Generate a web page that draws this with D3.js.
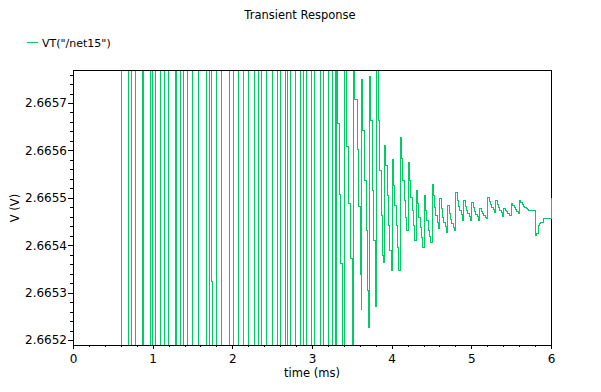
<!DOCTYPE html>
<html><head><meta charset="utf-8">
<script src="https://cdn.jsdelivr.net/npm/d3@7"></script>
<style>
body{margin:0;background:#fff;}
svg{display:block;font-family:"DejaVu Sans",sans-serif;}
</style></head><body>
<svg id="c" width="601" height="392"></svg>
<script>
// ---- data (time in ms, voltage in V) ----
const seriesName = 'VT("/net15")';
const HIGH = 2.6660, LOW = 2.6650; // off-scale excursions
// full-swing region: each entry is [time, value held afterwards]
const swingPts = [
  [0, LOW],
  [0.597, HIGH], [0.689, LOW], [0.731, HIGH], [0.782, LOW], [0.870, HIGH], [0.882, LOW],
  [0.970, HIGH], [0.995, LOW], [1.024, HIGH], [1.096, LOW], [1.141, HIGH], [1.191, LOW],
  [1.284, HIGH], [1.297, LOW], [1.347, HIGH], [1.380, LOW], [1.430, HIGH], [1.493, LOW],
  [1.568, HIGH], [1.674, LOW], [1.703, HIGH], [1.730, 2.665325], [1.745, LOW],
  [1.799, HIGH], [1.862, LOW], [1.954, HIGH], [2.008, LOW], [2.071, HIGH], [2.134, LOW],
  [2.197, HIGH], [2.272, LOW], [2.322, HIGH], [2.365, LOW], [2.428, HIGH], [2.498, LOW],
  [2.561, HIGH], [2.604, LOW], [2.667, HIGH], [2.692, LOW], [2.729, HIGH], [2.792, LOW],
  [2.846, HIGH], [2.888, LOW], [2.930, HIGH], [2.993, LOW], [3.031, HIGH], [3.106, LOW],
  [3.139, HIGH], [3.202, LOW], [3.252, HIGH], [3.290, LOW]
];
// settling region
const settlePts = [
  [3.2986, HIGH], [3.3199, 2.665658], [3.3363, 2.665508], [3.3577, 2.665362], [3.3740, LOW],
  [3.4029, HIGH], [3.4330, 2.665609], [3.4531, 2.665489], [3.4745, 2.665373], [3.4959, LOW],
  [3.5160, HIGH], [3.5285, 2.665709], [3.5587, 2.665603], [3.5788, 2.665483], [3.6002, 2.665339], [3.6090, 2.665265],
  [3.6165, 2.665751], [3.6291, 2.665643], [3.6504, 2.665538], [3.6718, 2.665432], [3.6882, 2.665306], [3.7007, 2.665227],
  [3.7095, 2.665757], [3.7258, 2.665664], [3.7472, 2.665517], [3.7635, 2.665411], [3.7849, 2.665272],
  [3.8050, HIGH], [3.8226, 2.665664], [3.8389, 2.665559], [3.8603, 2.665464], [3.8766, 2.665379], [3.8930, 2.665365],
  [3.9018, 2.665612], [3.9181, 2.665569], [3.9357, 2.665506], [3.9520, 2.665443], [3.9684, 2.665390], [3.9860, 2.665348]
];
// ringing region: sampled every 1/60 ms, one row of levels per 0.1 ms cycle
const sampleStep = 1 / 60;
const ringStart = [4.0, 4.1, 4.2, 4.3, 4.4, 4.5, 4.6, 4.7, 4.8, 4.9, 5.0, 5.1, 5.2, 5.3, 5.4, 5.5, 5.6, 5.7, 5.8, 5.9, 6.0];
const ringLevels = [
  [2.665582, 2.665527, 2.665485, 2.665443, 2.665396, 2.665348],
  [2.665628, 2.665584, 2.665538, 2.665495, 2.665460, 2.665432],
  [2.665576, 2.665538, 2.665502, 2.665474, 2.665443, 2.665411],
  [2.665517, 2.665489, 2.665460, 2.665438, 2.665417, 2.665396],
  [2.665506, 2.665474, 2.665453, 2.665432, 2.665419, 2.665407],
  [2.665529, 2.665506, 2.665481, 2.665464, 2.665449, 2.665436],
  [2.665500, 2.665479, 2.665460, 2.665449, 2.665441, 2.665428],
  [2.665485, 2.665468, 2.665455, 2.665447, 2.665438, 2.665432],
  [2.665512, 2.665495, 2.665483, 2.665474, 2.665466, 2.665453],
  [2.665495, 2.665483, 2.665474, 2.665468, 2.665462, 2.665453],
  [2.665491, 2.665481, 2.665472, 2.665466, 2.665462, 2.665453],
  [2.665479, 2.665472, 2.665468, 2.665464, 2.665460, 2.665457],
  [2.665502, 2.665493, 2.665487, 2.665481, 2.665476, 2.665470],
  [2.665495, 2.665487, 2.665481, 2.665474, 2.665470, 2.665462],
  [2.665479, 2.665474, 2.665472, 2.665468, 2.665464, 2.665464],
  [2.665489, 2.665485, 2.665481, 2.665476, 2.665472, 2.665468],
  [2.665495, 2.665491, 2.665487, 2.665483, 2.665481, 2.665479],
  [2.665476, 2.665474, 2.665474, 2.665474, 2.665474, 2.665474],
  [2.665422, 2.665426, 2.665443, 2.665447, 2.665449, 2.665449],
  [2.665457, 2.665457, 2.665457, 2.665457, 2.665457, 2.665457],
  [2.665500]
];
const xTicks = [0, 1, 2, 3, 4, 5, 6];
const yTicks = [2.6652, 2.6653, 2.6654, 2.6655, 2.6656, 2.6657];
const title = "Transient Response";
const xTitle = "time (ms)";
const yTitle = "V (V)";

// ---- build series ----
const ringPts = [];
ringStart.forEach((t0, i) => ringLevels[i].forEach((v, k) => ringPts.push([t0 + k * sampleStep, v])));
const series = swingPts.concat(settlePts, ringPts);

// ---- chart ----
const svg = d3.select('#c');
const x = d3.scaleLinear().domain([0, 6]).range([73, 551]);
const y = d3.scaleLinear().domain([2.66518945, 2.6657696]).range([345, 70]);
const color = '#00cc66';

svg.append('text').attr('x', 300).attr('y', 19).attr('text-anchor', 'middle')
  .attr('font-size', 11.5).text(title);

// legend
svg.append('line').attr('x1', 27).attr('x2', 38).attr('y1', 42.5).attr('y2', 42.5)
  .attr('stroke', color).attr('stroke-width', 1).attr('shape-rendering', 'crispEdges');
svg.append('text').attr('x', 42).attr('y', 47).attr('font-size', 11).text(seriesName);

// minor ticks
const yMinor = d3.range(0, 29).filter(i => i % 5 !== 0).map(i => 2.6652 + i * 0.00002);
const xMinor = d3.range(0, 31).filter(i => i % 5 !== 0).map(i => i * 0.2);

const gy = svg.append('g').attr('transform', 'translate(73,0)');
gy.call(d3.axisLeft(y).tickValues(yMinor).tickSize(3).tickSizeOuter(0).tickFormat(''));
gy.call(g => g.select('.domain').remove());
const gy2 = svg.append('g').attr('transform', 'translate(73,0)');
gy2.call(d3.axisLeft(y).tickValues(yTicks).tickSize(5).tickSizeOuter(0).tickPadding(1).tickFormat(d3.format('.4f')));
gy2.call(g => g.select('.domain').remove());

const gx = svg.append('g').attr('transform', 'translate(0,345)');
gx.call(d3.axisBottom(x).tickValues(xMinor).tickSize(2).tickSizeOuter(0).tickFormat(''));
gx.call(g => g.select('.domain').remove());
const gx2 = svg.append('g').attr('transform', 'translate(0,345)');
gx2.call(d3.axisBottom(x).tickValues(xTicks).tickSize(4).tickSizeOuter(0).tickPadding(5).tickFormat(d3.format('d')));
gx2.call(g => g.select('.domain').remove());

svg.selectAll('.tick text').attr('font-size', 12).attr('fill', '#000').attr('font-family', '"DejaVu Sans",sans-serif');
svg.selectAll('.tick line').attr('shape-rendering', 'crispEdges');

// axis titles
svg.append('text').attr('x', 312).attr('y', 377).attr('text-anchor', 'middle').attr('font-size', 11.5).text(xTitle);
svg.append('text').attr('transform', 'translate(19,208) rotate(-90)').attr('text-anchor', 'middle')
  .attr('font-size', 11.5).text(yTitle);

// frame
svg.append('rect').attr('x', 73.5).attr('y', 70.5).attr('width', 478).attr('height', 275)
  .attr('fill', 'none').attr('stroke', '#000').attr('shape-rendering', 'crispEdges');

// clip + line
svg.append('clipPath').attr('id', 'clip').append('rect')
  .attr('x', 74).attr('y', 71).attr('width', 478).attr('height', 274);
const line = d3.line().x(d => x(d[0]) + 0.5).y(d => y(d[1]) + 0.5).curve(d3.curveStepAfter);
svg.append('path').datum(series).attr('clip-path', 'url(#clip)')
  .attr('fill', 'none').attr('stroke', color).attr('stroke-width', 1)
  .attr('shape-rendering', 'crispEdges').attr('d', line);
</script>
</body></html>
